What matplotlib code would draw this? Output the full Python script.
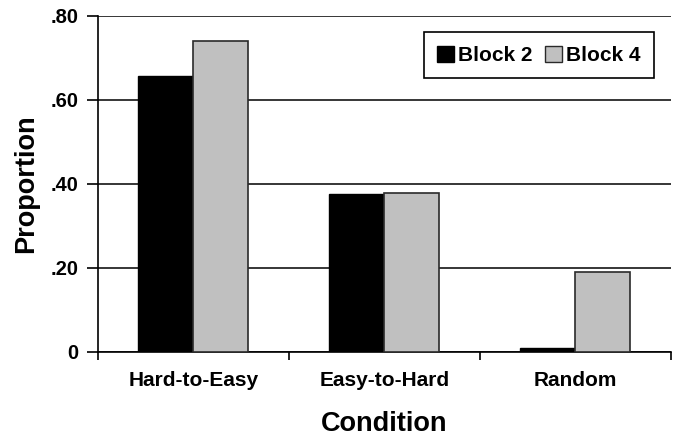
import matplotlib
matplotlib.use("Agg")
import matplotlib.pyplot as plt
from matplotlib.ticker import FixedLocator
from matplotlib.patches import Patch

conditions = ["Hard-to-Easy", "Easy-to-Hard", "Random"]
block2 = [0.656, 0.376, 0.010]
block4 = [0.740, 0.379, 0.190]
series_names = ["Block 2", "Block 4"]
y_ticks = [0, 0.20, 0.40, 0.60, 0.80]
y_tick_labels = ["0", ".20", ".40", ".60", ".80"]

plt.rcParams["font.family"] = ["Liberation Sans", "DejaVu Sans"]
plt.rcParams["font.weight"] = "bold"

fig = plt.figure(figsize=(6.75, 4.36), dpi=100)
ax = fig.add_axes([0.145, 0.193, 0.849, 0.771])

x = range(len(conditions))
w = 0.288
ax.bar([i - w / 2 for i in x], block2, width=w, color="black",
       edgecolor="black", linewidth=1, zorder=3)
ax.bar([i + w / 2 for i in x], block4, width=w, color="#c0c0c0",
       edgecolor="#2a2a2a", linewidth=1.2, zorder=3)

ax.set_xlim(-0.5, len(conditions) - 0.5)
ax.set_ylim(0, 0.80)
ax.set_yticks(y_ticks)
ax.set_yticklabels(y_tick_labels, fontsize=14.5, fontweight="bold")
ax.yaxis.grid(True, color="black", linewidth=1.1, zorder=0)
ax.set_axisbelow(True)

ax.xaxis.set_major_locator(FixedLocator([i - 0.5 for i in range(len(conditions) + 1)]))
ax.xaxis.set_minor_locator(FixedLocator(list(x)))
ax.set_xticklabels([], minor=False)
ax.set_xticklabels(conditions, minor=True, fontsize=15, fontweight="bold")
ax.tick_params(axis="x", which="major", length=6, width=1.2, direction="out")
ax.tick_params(axis="x", which="minor", length=0, pad=14)
ax.tick_params(axis="y", length=8, width=1.2, direction="out", pad=6)

for s in ["top", "right"]:
    ax.spines[s].set_visible(False)
for s in ["left", "bottom"]:
    ax.spines[s].set_linewidth(1.2)

ax.set_xlabel("Condition", fontsize=19.5, fontweight="bold", labelpad=15)
ax.set_ylabel("Proportion", fontsize=19.5, fontweight="bold", labelpad=8)

handles = [Patch(facecolor="black", edgecolor="black"),
           Patch(facecolor="#c0c0c0", edgecolor="#2a2a2a")]
leg = ax.legend(handles, series_names, loc="upper right",
                bbox_to_anchor=(0.970, 0.951), borderaxespad=0, ncol=2,
                fancybox=False, framealpha=1, edgecolor="black", fontsize=15,
                handlelength=0.8, handleheight=0.8, handletextpad=0.2,
                columnspacing=0.6, borderpad=0.65)
leg.get_frame().set_linewidth(1.2)
for t in leg.get_texts():
    t.set_fontweight("bold")

fig.savefig("out.png", dpi=100)
